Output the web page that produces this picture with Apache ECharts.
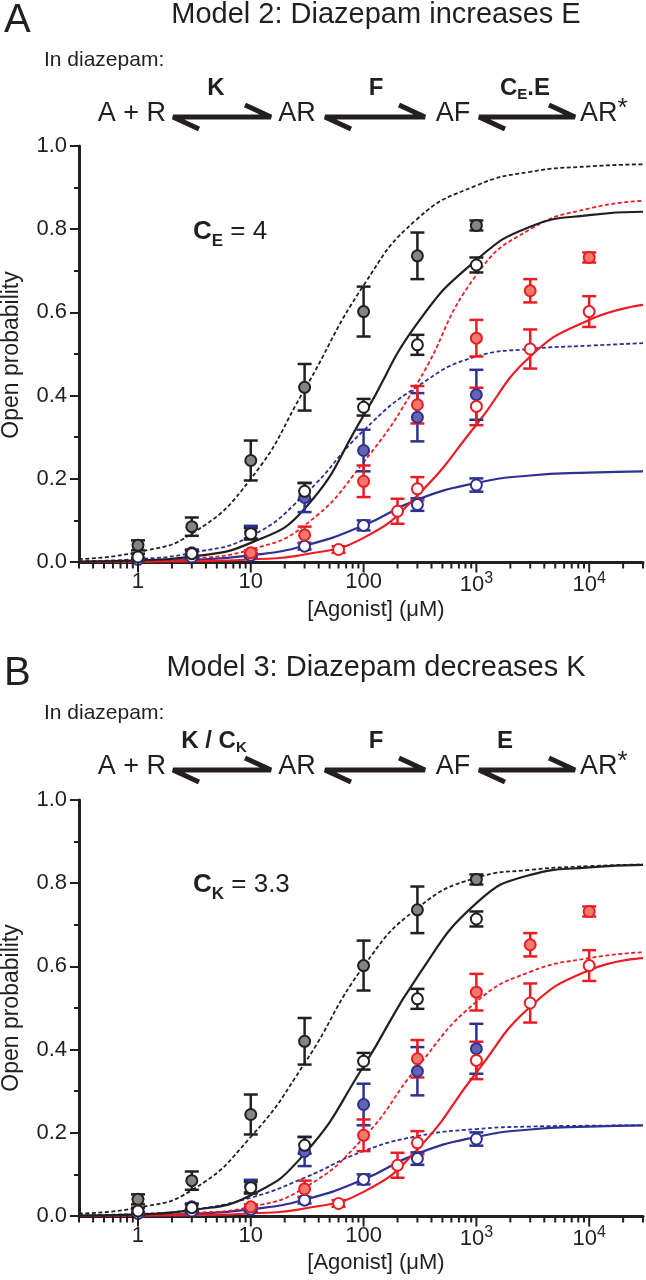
<!DOCTYPE html>
<html>
<head>
<meta charset="utf-8">
<script src="https://cdn.jsdelivr.net/npm/echarts@6/dist/echarts.min.js"></script>
<style>
  html, body { margin: 0; padding: 0; background: #fff; }
  #panelA { position: absolute; left: 0; top: 0; width: 646px; height: 653px; }
  #panelB { position: absolute; left: 0; top: 653px; width: 646px; height: 627px; }
</style>
</head>
<body>
<div id="panelA"></div>
<div id="panelB"></div>
<script>
// ---- data (concentrations in µM, open probability) ----
const GRAY_CONC = [1, 3, 10, 30, 100, 300, 1000];
const GRAY_PO = [0.040, 0.085, 0.244, 0.420, 0.602, 0.736, 0.809];
const GRAY_ERR = [0.012, 0.022, 0.048, 0.056, 0.060, 0.056, 0.012];

const BLACK_OPEN_CONC = [1, 3, 10, 30, 100, 300, 1000];
const BLACK_OPEN_PO = [0.012, 0.020, 0.068, 0.170, 0.372, 0.522, 0.714];
const BLACK_OPEN_ERR = [0.008, 0.008, 0.014, 0.020, 0.020, 0.024, 0.018];

const RED_FILL_CONC = [10, 30, 100, 300, 1000, 3000, 10000];
const RED_FILL_PO = [0.022, 0.065, 0.194, 0.378, 0.538, 0.652, 0.732];
const RED_FILL_ERR = [0.006, 0.020, 0.038, 0.045, 0.044, 0.028, 0.012];

const RED_OPEN_CONC = [60, 200, 300, 1000, 3000, 10000];
const RED_OPEN_PO = [0.030, 0.122, 0.176, 0.374, 0.512, 0.602];
const RED_OPEN_ERR = [0.008, 0.030, 0.028, 0.045, 0.047, 0.037];

const BLUE_FILL_CONC = [3, 10, 30, 100, 300, 1000];
const BLUE_FILL_PO = [0.022, 0.072, 0.155, 0.268, 0.348, 0.402];
const BLUE_FILL_ERR = [0.008, 0.015, 0.035, 0.050, 0.058, 0.060];

const BLUE_OPEN_CONC = [1, 3, 10, 30, 100, 300, 1000];
const BLUE_OPEN_PO = [0.006, 0.012, 0.016, 0.038, 0.088, 0.138, 0.185];
const BLUE_OPEN_ERR = [0.004, 0.005, 0.005, 0.008, 0.012, 0.015, 0.016];

// model curves
const FIT_CONC = [0.3, 1, 3, 10, 30, 100, 300, 1000, 3000, 10000, 30000];

const A_BLACK_DASH = [0.007, 0.024, 0.068, 0.200, 0.415, 0.665, 0.825, 0.905, 0.938, 0.951, 0.956];
const A_BLACK_SOLID = [0.001, 0.004, 0.013, 0.046, 0.128, 0.352, 0.574, 0.726, 0.806, 0.834, 0.842];
const A_RED_DASH = [0.000, 0.002, 0.008, 0.030, 0.088, 0.240, 0.430, 0.690, 0.800, 0.850, 0.868];
const A_RED_SOLID = [0.000, 0.001, 0.002, 0.006, 0.018, 0.058, 0.160, 0.330, 0.494, 0.582, 0.618];
const A_BLUE_DASH = [0.002, 0.007, 0.022, 0.062, 0.162, 0.316, 0.422, 0.494, 0.512, 0.520, 0.526];
const A_BLUE_SOLID = [0.000, 0.002, 0.005, 0.016, 0.039, 0.088, 0.150, 0.190, 0.208, 0.215, 0.218];

const B_BLACK_DASH = [0.006, 0.020, 0.062, 0.190, 0.367, 0.600, 0.740, 0.813, 0.832, 0.841, 0.845];
const B_BLACK_SOLID = [0.001, 0.004, 0.014, 0.050, 0.150, 0.360, 0.575, 0.752, 0.820, 0.838, 0.844];
const B_RED_DASH = [0.000, 0.002, 0.007, 0.022, 0.068, 0.188, 0.358, 0.515, 0.587, 0.620, 0.634];
const B_RED_SOLID = [0.000, 0.001, 0.002, 0.006, 0.018, 0.058, 0.160, 0.345, 0.503, 0.591, 0.620];
const B_BLUE_DASH = [0.002, 0.005, 0.015, 0.044, 0.092, 0.156, 0.192, 0.209, 0.215, 0.217, 0.218];
const B_BLUE_SOLID = [0.000, 0.002, 0.005, 0.016, 0.039, 0.088, 0.150, 0.190, 0.208, 0.215, 0.218];

const X_MIN = 0.3, X_MAX = 30000;
const DECADE_TICKS = [1, 10, 100, 1000, 10000];

// ---- styles ----
const FONT = '"Liberation Sans", Arial, Helvetica, sans-serif';
const BLACK = '#231f20';
const RED = '#ec1c24';
const BLUE = '#2e3192';
const GRAY_FILL = '#858585';
const RED_FILL = '#f27a6c';
const BLUE_FILL = '#6365b3';

// x axis is log10 of concentration, measured from the left end of the axis
const LOG0 = Math.log10(X_MIN);
const xv = (c) => Math.log10(c) - LOG0;

// tick marks on the log axis: [position, length]
const xTicks = DECADE_TICKS.map((v) => [xv(v), 9]);
for (let d = -1; d <= 4; d++) {
  for (let m = 2; m <= 9; m++) {
    const v = m * Math.pow(10, d);
    if (v > X_MIN && v <= X_MAX) xTicks.push([xv(v), 5]);
  }
}

const GROUPS = [
  { conc: BLUE_OPEN_CONC, po: BLUE_OPEN_PO, err: BLUE_OPEN_ERR, stroke: BLUE, fill: '#fff' },
  { conc: BLUE_FILL_CONC, po: BLUE_FILL_PO, err: BLUE_FILL_ERR, stroke: BLUE, fill: BLUE_FILL },
  { conc: RED_OPEN_CONC, po: RED_OPEN_PO, err: RED_OPEN_ERR, stroke: RED, fill: '#fff' },
  { conc: RED_FILL_CONC, po: RED_FILL_PO, err: RED_FILL_ERR, stroke: RED, fill: RED_FILL },
  { conc: BLACK_OPEN_CONC, po: BLACK_OPEN_PO, err: BLACK_OPEN_ERR, stroke: BLACK, fill: '#fff' },
  { conc: GRAY_CONC, po: GRAY_PO, err: GRAY_ERR, stroke: BLACK, fill: GRAY_FILL },
];

const FITS_A = [
  { y: A_BLUE_SOLID, color: BLUE, dash: false },
  { y: A_BLUE_DASH, color: BLUE, dash: true },
  { y: A_RED_SOLID, color: RED, dash: false },
  { y: A_RED_DASH, color: RED, dash: true },
  { y: A_BLACK_SOLID, color: BLACK, dash: false },
  { y: A_BLACK_DASH, color: BLACK, dash: true },
];
const FITS_B = [
  { y: B_BLUE_SOLID, color: BLUE, dash: false },
  { y: B_BLUE_DASH, color: BLUE, dash: true },
  { y: B_RED_SOLID, color: RED, dash: false },
  { y: B_RED_DASH, color: RED, dash: true },
  { y: B_BLACK_SOLID, color: BLACK, dash: false },
  { y: B_BLACK_DASH, color: BLACK, dash: true },
];

// ---- text helpers ----
function txt(x, y, text, size, extra) {
  return {
    type: 'text', x, y, silent: true,
    style: Object.assign({
      text, fill: BLACK, fontFamily: FONT, fontSize: size,
      textAlign: 'left', align: 'left', textVerticalAlign: 'middle', verticalAlign: 'middle',
    }, extra || {}),
  };
}
function center(o) { o.style.textAlign = o.style.align = 'center'; return o; }
function right(o) { o.style.textAlign = o.style.align = 'right'; return o; }

function arrow(x1, x2, y) {
  return {
    type: 'polyline', silent: true,
    shape: { points: [[x1 + 28, y + 12], [x1 + 2, y], [x2 - 2, y], [x2 - 28, y - 12]] },
    style: { stroke: BLACK, lineWidth: 5, fill: null, lineJoin: 'bevel', lineCap: 'butt' },
  };
}

const boldRich = {
  b: { fontFamily: FONT, fontSize: 24, fontWeight: 'bold', color: BLACK },
  bs: { fontFamily: FONT, fontSize: 15, fontWeight: 'bold', color: BLACK, padding: [14, 0, 0, 0] },
};

function panelText(letter, title, labels, constText) {
  const yLabel = txt(12, 355, 'Open probability', 23, { textAlign: 'center', align: 'center' });
  yLabel.rotation = Math.PI / 2;
  const els = [
    txt(4, 21, letter, 40),
    center(txt(376, 15, title, 29)),
    txt(44, 60, 'In diazepam:', 21),
    right(txt(166, 114, 'A + R', 27)),
    center(txt(297, 114, 'AR', 27)),
    center(txt(453, 114, 'AF', 27)),
    txt(580, 114, '{n|AR}{s|*}', 27, {
      rich: {
        n: { fontFamily: FONT, fontSize: 27, color: BLACK },
        s: { fontFamily: FONT, fontSize: 26, color: BLACK, padding: [0, 0, 10, 0] },
      },
    }),
    arrow(171, 273, 117),
    arrow(323, 427, 117),
    arrow(477, 577, 117),
    txt(193, 232, constText, 26, {
      rich: {
        b: { fontFamily: FONT, fontSize: 26, fontWeight: 'bold', color: BLACK },
        bs: { fontFamily: FONT, fontSize: 17, fontWeight: 'bold', color: BLACK, padding: [18, 0, 0, 0] },
        n: { fontFamily: FONT, fontSize: 26, color: BLACK },
      },
    }),
    yLabel,
    center(txt(376, 610, '[Agonist] (\u03bcM)', 22)),
  ];
  labels.forEach((l) => {
    els.push(center(txt(l.x, 88, l.text, 24, { rich: boldRich })));
  });
  return els;
}

// ---- one chart per panel ----
function panelOption(gridTop, fits, graphicEls) {
  const series = [];
  series.push({
    type: 'custom', z: 6, silent: true, clip: false,
    data: xTicks,
    renderItem: (params, api) => {
      const pt = api.coord([api.value(0), 0]);
      return {
        type: 'line',
        shape: { x1: pt[0], y1: pt[1], x2: pt[0], y2: pt[1] + 1.5 + api.value(1) },
        style: { stroke: BLACK, lineWidth: 2 },
      };
    },
  });
  fits.forEach((f) => {
    series.push({
      type: 'line',
      data: FIT_CONC.map((c, i) => [xv(c), f.y[i]]),
      showSymbol: false, smooth: 0.5,
      lineStyle: { color: f.color, width: f.dash ? 1.8 : 2.2, type: f.dash ? [4, 2.5] : 'solid' },
      z: 2, silent: true,
    });
  });
  GROUPS.forEach((g) => {
    series.push({
      type: 'custom', z: 3,
      data: g.conc.map((c, i) => [xv(c), g.po[i] - g.err[i], g.po[i] + g.err[i]]),
      encode: { x: 0, y: [1, 2] },
      renderItem: (params, api) => {
        const lo = api.coord([api.value(0), api.value(1)]);
        const hi = api.coord([api.value(0), api.value(2)]);
        const w = 7;
        const st = { stroke: g.stroke, lineWidth: 2.5 };
        return {
          type: 'group',
          children: [
            { type: 'line', shape: { x1: hi[0], y1: hi[1], x2: lo[0], y2: lo[1] }, style: st },
            { type: 'line', shape: { x1: hi[0] - w, y1: hi[1], x2: hi[0] + w, y2: hi[1] }, style: st },
            { type: 'line', shape: { x1: lo[0] - w, y1: lo[1], x2: lo[0] + w, y2: lo[1] }, style: st },
          ],
        };
      },
    });
    series.push({
      type: 'scatter', z: 4,
      data: g.conc.map((c, i) => [xv(c), g.po[i]]),
      symbol: 'circle', symbolSize: 11,
      itemStyle: { color: g.fill, borderColor: g.stroke, borderWidth: 2, opacity: 1 },
    });
  });

  return {
    animation: false,
    backgroundColor: '#fff',
    grid: { left: 79, right: 3, top: gridTop, height: 416, outerBoundsMode: 'none' },
    xAxis: {
      type: 'value', position: 'bottom',
      min: 0, max: xv(X_MAX),
      axisLine: { show: true, onZero: false, lineStyle: { color: BLACK, width: 3 } },
      axisTick: { show: false },
      axisLabel: {
        show: true, customValues: DECADE_TICKS.map(xv), margin: 9,
        color: BLACK, fontFamily: FONT, fontSize: 22,
        formatter: (v) => {
          const e = Math.round(v + LOG0);
          return e <= 2 ? String(Math.pow(10, e)) : '10{sup|' + e + '}';
        },
        rich: { sup: { fontFamily: FONT, fontSize: 16, color: BLACK, padding: [0, 0, 12, 0] } },
      },
      splitLine: { show: false },
    },
    yAxis: {
      type: 'value', min: 0, max: 1, interval: 0.2,
      axisLine: { show: true, onZero: false, lineStyle: { color: BLACK, width: 3 } },
      axisTick: { show: true, length: 9, lineStyle: { color: BLACK, width: 2 } },
      minorTick: { show: true, splitNumber: 2, length: 5, lineStyle: { color: BLACK, width: 2 } },
      axisLabel: { color: BLACK, fontFamily: FONT, fontSize: 22, margin: 12, formatter: (v) => v.toFixed(1) },
      splitLine: { show: false },
    },
    series,
    graphic: { elements: graphicEls },
  };
}

const chartA = echarts.init(document.getElementById('panelA'), null, { renderer: 'canvas' });
chartA.setOption(panelOption(146, FITS_A, panelText('A', 'Model 2: Diazepam increases E',
  [{ x: 216, text: '{b|K}' }, { x: 376, text: '{b|F}' }, { x: 525, text: '{b|C}{bs|E}{b|.E}' }],
  '{b|C}{bs|E}{n| = 4}')));

const chartB = echarts.init(document.getElementById('panelB'), null, { renderer: 'canvas' });
chartB.setOption(panelOption(147, FITS_B, panelText('B', 'Model 3: Diazepam decreases K',
  [{ x: 214, text: '{b|K / C}{bs|K}' }, { x: 376, text: '{b|F}' }, { x: 505, text: '{b|E}' }],
  '{b|C}{bs|K}{n| = 3.3}')));
</script>
</body>
</html>
